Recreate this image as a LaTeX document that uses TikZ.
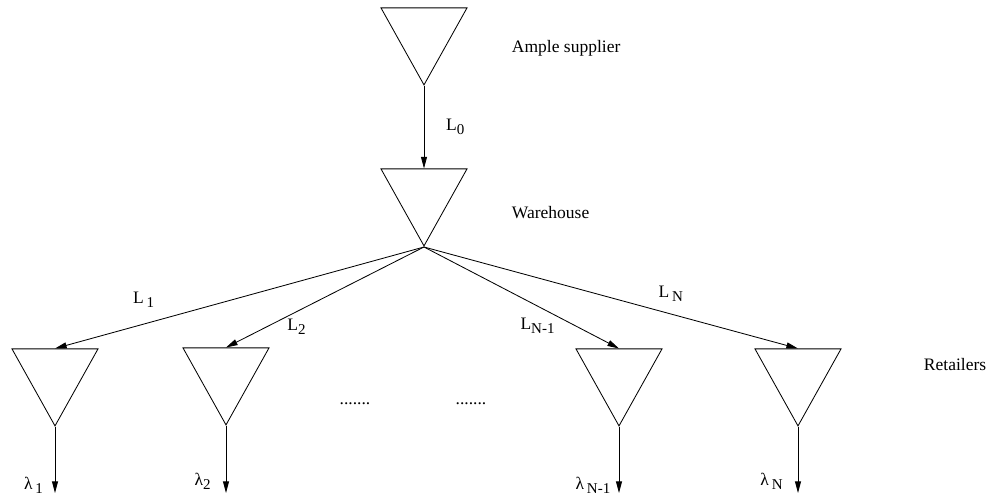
\documentclass[tikz,border=0pt]{standalone}
\usepackage{fontspec}
\setmainfont{Liberation Serif}
\usetikzlibrary{shapes.geometric,arrows.meta}
\newcommand{\lsub}[1]{\raisebox{-0.5ex}{\small #1}}

\begin{document}
\begin{tikzpicture}[->, >={Stealth[length=7pt, width=3.6pt, inset=0pt]}, x=0.6pt, y=-0.6pt, line width=0.5pt, font=\fontsize{10.5}{12}\selectfont,
        stock/.style={isosceles triangle, isosceles triangle stretches, shape border rotate=270, draw=black, minimum width=51.6pt, minimum height=46.2pt, inner sep=0pt, anchor=apex},
        tag/.style={inner sep=1pt}]
        \useasboundingbox (0,0) rectangle (990,500);

        \node[stock] (sup) at (424,86) {};
        \node[stock] (wh) at (424,247) {};
        \node[stock] (r1) at (55,427) {};
        \node[stock] (r2) at (226,426) {};
        \node[stock] (rn1) at (619,427) {};
        \node[stock] (rn) at (798,427) {};

        \node[anchor=west] (supname) at (506,48) {Ample supplier};
        \node[anchor=west] (whname) at (506,213) {Warehouse};
        \node[anchor=west] (retname) at (918,365) {Retailers};
        \node (dots1) at (355,404) {.......};
        \node (dots2) at (471,404) {.......};

        \coordinate (d1) at (55,493);
        \coordinate (d2) at (226,493);
        \coordinate (dn1) at (619,493);
        \coordinate (dn) at (798,493);

        \path (sup.apex) edge node[tag, right=12pt] {L\lsub{0}} (wh.north)
              (wh.apex) edge node[tag, pos=0.76, above=9pt] {L\,\lsub{1}} (r1.north)
              (wh.apex) edge node[tag, pos=0.7, below right] {L\lsub{2}} (r2.north)
              (wh.apex) edge node[tag, pos=0.68, below left] {L\lsub{N-1}} (rn1.north)
              (wh.apex) edge node[tag, pos=0.66, above=6pt] {L\,\lsub{N}} (rn.north);

        \path (r1.apex) edge node[tag, pos=0.88, left=6pt] {λ\,\lsub{1}} (d1)
              (r2.apex) edge node[tag, pos=0.82, left=8pt] {λ\lsub{2}} (d2)
              (rn1.apex) edge node[tag, pos=0.88, left=4pt] {λ\,\lsub{N-1}} (dn1)
              (rn.apex) edge node[tag, pos=0.82, left=8pt] {λ\,\lsub{N}} (dn);
    \end{tikzpicture}
\end{document}
